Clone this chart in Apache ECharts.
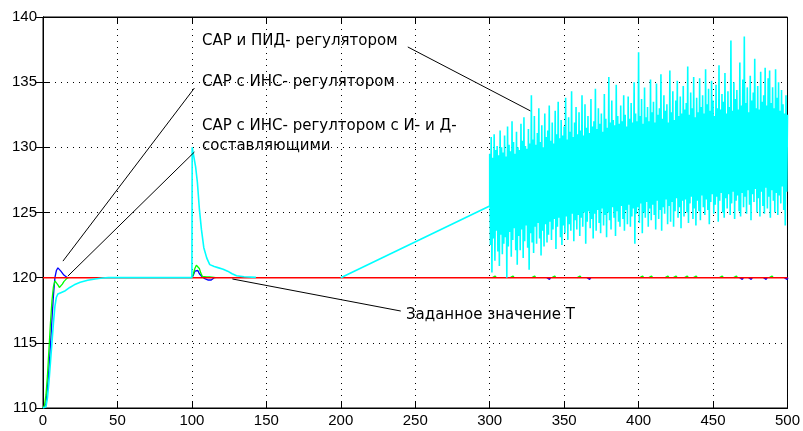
<!DOCTYPE html>
<html>
<head>
<meta charset="utf-8">
<script src="https://cdn.jsdelivr.net/npm/echarts@6/dist/echarts.min.js"></script>
<style>html,body{margin:0;padding:0;background:#fff}#c{width:803px;height:431px}</style>
</head>
<body>
<div id="c"></div>
<script>
// ---- axis ticks ----
const xTicks = [0, 50, 100, 150, 200, 250, 300, 350, 400, 450, 500];
const yTicks = [110, 115, 120, 125, 130, 135, 140];

// ---- setpoint (red) ----
const setpointT = [0, 500];
const setpointV = [120, 120];

// ---- САР с ИНС-регулятором (blue); null = stays on the setpoint (hidden under the red line) ----
const blueT = [0, 2, 3, 4, 5, 6, 7, 8, 9, 10, 11, 12, 13, 14, 15, 16, 17, 17.5, 100, 101, 102, 103, 104, 105, 107, 109, 111, 113, 114, 115];
const blueV = [110, 110.3, 111.5, 113, 114.8, 116.8, 118.6, 120.0, 120.55, 120.75, 120.7, 120.5, 120.35, 120.2, 120.1, 120.03, 120, null, 120, 120.2, 120.5, 120.65, 120.55, 120.3, 120.05, 119.9, 119.82, 119.82, 119.9, 120];
// small blue specks below the setpoint in the noisy region (time, value)
const blueSpeckT = [339, 366, 468.5, 474.5, 484.5, 498.5];
const blueSpeckV = [119.88, 119.88, 119.88, 119.88, 119.88, 119.88];

// ---- САР с ИНС-регулятором с И- и Д-составляющими (green) ----
const greenT = [0, 1, 2, 3, 4, 5, 6, 7, 8, 9, 10, 11, 12, 13, 14, 15, 16, 17, 17.5, 100, 101, 102, 103, 104, 105, 106, 107, 108, 110, 112, 116];
const greenV = [110, 110.2, 111, 112.5, 114.5, 116.5, 118.2, 119.3, 119.75, 119.7, 119.45, 119.25, 119.3, 119.5, 119.7, 119.85, 119.95, 120, null, 120, 120.3, 120.7, 120.95, 120.95, 120.7, 120.35, 120.1, 120, 120.05, 120.05, 120];
// small green specks above the setpoint in the noisy region (time, value)
const greenSpeckT = [302.5, 314.5, 329, 342.5, 359.5, 401.5, 407.5, 418.5, 424, 431.5, 437.5, 455, 464.5, 488.5];
const greenSpeckV = [120.12, 120.12, 120.12, 120.12, 120.12, 120.12, 120.12, 120.12, 120.12, 120.12, 120.12, 120.12, 120.12, 120.12];

// ---- САР и ПИД-регулятором (cyan): transient part ----
const cyanT = [0, 2, 3, 4, 5, 6, 7, 8, 9, 10, 12, 15, 18, 21, 25, 30, 35, 40, 44, 100, 100.2, 101.5, 102.5, 103.7, 105, 106.4, 108, 110, 112, 115, 118, 121, 124, 127, 130, 135, 143, 150, 200, 300];
const cyanV = [110, 110.1, 110.8, 112, 113.5, 115, 116.5, 117.8, 118.5, 118.75, 118.85, 119, 119.25, 119.45, 119.65, 119.8, 119.9, 119.97, 120, 120, 130, 129.9, 128.5, 127.3, 125.3, 123.7, 122.3, 121.5, 121.0, 120.85, 120.75, 120.65, 120.5, 120.3, 120.15, 120.07, 120.02, null, 120, 125.5];

// ---- cyan noisy part: peaks at t = 300..500 (step 1), troughs at t = 300.5..499.5 ----
const noiseStart = 300;
const noiseHigh = [
  129.5, 130.8, 129.2, 131.0, 129.8, 130.1, 129.4, 131.3, 130.0, 129.6,
  130.9, 129.3, 131.6, 130.2, 129.7, 132.0, 130.4, 129.5, 131.2, 130.0,
  129.8, 131.8, 130.5, 132.3, 130.1, 129.9, 131.4, 130.3, 134.0, 130.6,
  132.4, 130.2, 131.1, 133.0, 130.4, 131.7, 130.0, 132.6, 130.8, 131.3,
  133.2, 130.5, 131.9, 130.3, 132.8, 131.0, 133.5, 130.7, 132.1, 130.9,
  131.6, 133.8, 130.6, 132.3, 131.2, 134.3, 130.8, 131.9, 133.1, 131.0,
  132.7, 131.3, 134.0, 130.9, 133.3, 131.5, 132.4, 131.1, 133.7, 131.6,
  132.0, 134.5, 131.4, 133.0, 131.8, 132.6, 131.2, 134.1, 132.2, 131.5,
  135.4, 131.9, 133.6, 132.1, 131.7, 134.8, 132.4, 131.8, 133.2, 132.0,
  134.0, 132.5, 131.6, 133.9, 132.2, 133.4, 131.9, 135.0, 132.6, 132.0,
  137.3, 132.4, 133.7, 131.8, 134.6, 132.3, 133.1, 132.0, 135.2, 132.7,
  133.5, 131.9, 134.9, 132.5, 133.0, 135.6, 132.2, 134.0, 132.8, 133.3,
  131.9, 135.9, 132.7, 134.3, 132.1, 133.6, 135.1, 132.4, 133.9, 132.6,
  134.7, 132.9, 133.4, 136.2, 132.5, 134.2, 133.0, 135.4, 132.3, 133.8,
  132.7, 135.3, 133.1, 134.0, 132.6, 136.0, 133.3, 134.5, 132.8, 135.1,
  133.6, 132.4, 134.8, 133.0, 136.3, 132.9, 134.1, 133.5, 135.7, 132.6,
  134.3, 133.1, 138.2, 132.8, 135.0, 133.7, 134.4, 132.9, 136.5, 133.2,
  135.2, 138.5, 133.4, 134.6, 132.7, 135.5, 133.6, 134.2, 136.8, 133.0,
  134.7, 132.9, 135.8, 133.5, 134.0, 136.1, 133.2, 135.3, 135.9, 133.4,
  134.6, 133.0, 136.0, 133.8, 135.0, 132.8, 134.4, 133.3, 132.6, 134.0,
  132.5
];
const noiseLow = [
  122.5, 120.4, 123.0, 121.3, 123.6, 122.0, 120.9, 123.3, 121.8, 122.6,
  123.1, 120.0, 122.4, 123.5, 121.6, 122.9, 123.8, 122.1, 121.0, 123.2,
  122.1, 123.7, 121.5, 122.8, 124.0, 122.3, 120.6, 123.4, 122.7, 121.9,
  123.9, 122.6, 124.2, 123.0, 121.7, 123.6, 122.4, 124.1, 122.7, 123.3,
  124.3, 122.9, 123.7, 124.5, 122.2, 123.9, 124.6, 123.1, 122.5, 124.0,
  123.4, 124.7, 122.9, 124.1, 123.6, 124.9, 122.8, 124.4, 123.7, 124.8,
  123.2, 124.6, 123.9, 125.0, 122.6, 124.3, 125.1, 123.8, 124.5, 123.0,
  124.9, 123.6, 125.2, 124.2, 123.4, 125.3, 124.0, 124.8, 123.1, 125.0,
  124.4, 123.7, 125.4, 124.6, 123.2, 125.1, 124.3, 123.9, 125.5, 124.5,
  123.6, 125.2, 124.1, 125.6, 123.9, 124.7, 125.3, 122.6, 124.9, 125.4,
  124.2, 125.7, 123.4, 125.0, 124.6, 125.8, 123.9, 125.3, 124.4, 125.6,
  124.8, 123.7, 125.9, 124.5, 125.2, 123.6, 125.4, 124.9, 126.0, 124.1,
  125.5, 124.3, 125.8, 123.9, 125.1, 126.1, 124.6, 125.4, 123.8, 125.9,
  124.7, 126.0, 125.0, 124.2, 125.7, 126.2, 124.5, 125.3, 124.0, 125.9,
  125.1, 124.4, 126.3, 125.4, 124.8, 126.0, 125.2, 124.1, 125.8, 126.4,
  124.9, 125.6, 126.2, 124.3, 125.9, 126.5, 125.0, 124.6, 126.1, 125.3,
  126.4, 124.8, 125.7, 126.6, 124.5, 125.9, 126.3, 125.1, 124.7, 126.5,
  125.4, 126.2, 124.9, 126.7, 125.6, 124.4, 126.4, 125.8, 126.8, 125.0,
  126.1, 124.7, 126.6, 125.5, 124.9, 126.9, 125.3, 126.2, 124.6, 126.7,
  125.9, 125.0, 126.5, 124.8, 126.3, 125.7, 127.0, 125.2, 124.0, 126.6
];

// ---- annotations: texts and leader lines (data coordinates) ----
const labelTexts = ['САР и ПИД- регулятором', 'САР с ИНС- регулятором', 'САР с ИНС- регултором с И- и Д-', 'составляющими', 'Заданное значение T'];
const leaderLines = [
  [[13.4, 121.27], [101.7, 134.55]],
  [[16.7, 120.12], [101.7, 129.64]],
  [[245, 137.7], [327.3, 132.8]],
  [[127.2, 119.9], [240.3, 117.44]]
];

function pairs(t, v) { return t.map((x, i) => [x, v[i]]); }
function specks(t, v) {
  const out = [];
  t.forEach((x, i) => { out.push([x - 0.6, 120], [x, v[i]], [x + 1.2, v[i]], [x + 1.8, 120], [x + 1.9, null]); });
  return out;
}
const cyanData = pairs(cyanT, cyanV);
noiseLow.forEach((lo, i) => {
  cyanData.push([noiseStart + i, noiseHigh[i]]);
  cyanData.push([noiseStart + i + 0.5, lo]);
});
cyanData.push([noiseStart + noiseLow.length, noiseHigh[noiseLow.length]]);

const FONT = '"Liberation Sans", Arial, sans-serif';
const TFONT = '"DejaVu Sans", sans-serif';
const chart = echarts.init(document.getElementById('c'), null, { renderer: 'canvas' });

const baseAxisLine = { show: true, lineStyle: { color: '#000', width: 1 } };
const gridLine = { show: true, lineStyle: { color: '#000', width: 1, type: [1, 5] } };
const tick = { show: true, inside: true, length: 7, lineStyle: { color: '#000' } };

function lineSeries(name, data, color, width, z) {
  return { name: name, type: 'line', data: data, showSymbol: false, symbol: 'none', connectNulls: false,
    lineStyle: { color: color, width: width }, z: z, animation: false, silent: true };
}
const series = [
  lineSeries('blue', pairs(blueT, blueV), '#0000ff', 1.3, 2),
  lineSeries('green', pairs(greenT, greenV), '#00ff00', 1.3, 3),
  lineSeries('blueSpecks', specks(blueSpeckT, blueSpeckV), '#0000ff', 1.5, 2),
  lineSeries('greenSpecks', specks(greenSpeckT, greenSpeckV), '#00ff00', 1.5, 3),
  lineSeries('red', pairs(setpointT, setpointV), '#ff0000', 1.5, 4),
  lineSeries('cyan', cyanData, '#00ffff', 1.6, 5)
];
leaderLines.forEach((ln, i) => series.push(lineSeries('leader' + i, ln, '#000', 1, 6)));

const txt = (s, x, y) => ({ type: 'text', x: x, y: y, z: 100, style: { text: s, font: '15px ' + TFONT, fill: '#000', verticalAlign: 'middle' } });

chart.setOption({
  animation: false,
  backgroundColor: '#fff',
  grid: { left: 43, right: 13, top: 17, bottom: 23, show: true, borderColor: '#000', borderWidth: 1, backgroundColor: 'transparent' },
  xAxis: [
    { type: 'value', min: xTicks[0], max: xTicks[xTicks.length - 1], interval: 50,
      axisLine: baseAxisLine, axisTick: tick,
      axisLabel: { color: '#000', fontFamily: FONT, fontSize: 15, margin: 5 },
      splitLine: gridLine },
    { type: 'value', position: 'top', min: xTicks[0], max: xTicks[xTicks.length - 1], interval: 50,
      axisLine: baseAxisLine, axisTick: tick, axisLabel: { show: false }, splitLine: { show: false } }
  ],
  yAxis: [
    { type: 'value', min: yTicks[0], max: yTicks[yTicks.length - 1], interval: 5,
      axisLine: baseAxisLine, axisTick: tick,
      axisLabel: { color: '#000', fontFamily: FONT, fontSize: 15, margin: 6 },
      splitLine: gridLine },
    { type: 'value', position: 'right', min: yTicks[0], max: yTicks[yTicks.length - 1], interval: 5,
      axisLine: baseAxisLine, axisTick: tick, axisLabel: { show: false }, splitLine: { show: false } }
  ],
  series: series,
  graphic: [
    txt(labelTexts[0], 202, 41),
    txt(labelTexts[1], 202, 82),
    txt(labelTexts[2], 202, 126),
    txt(labelTexts[3], 202, 146),
    txt(labelTexts[4], 406, 315)
  ]
});
</script>
</body>
</html>
